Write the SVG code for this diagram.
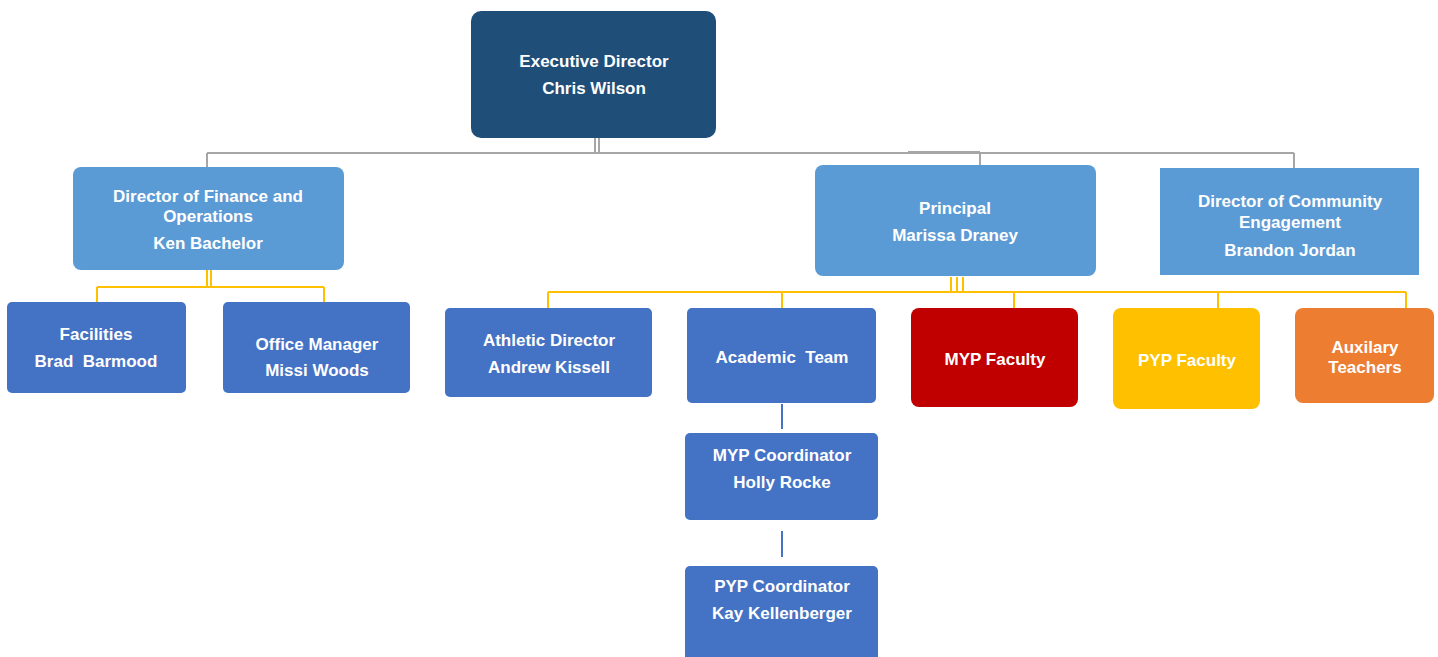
<svg xmlns="http://www.w3.org/2000/svg" width="1438" height="657" viewBox="0 0 1438 657">
<style>
text{font-family:"Liberation Sans",Arial,sans-serif;font-weight:bold;font-size:17px;fill:#FFFFFF;text-anchor:middle;white-space:pre}
.gray{stroke:#A6A6A6;stroke-width:2;fill:none}
.yel{stroke:#FFC000;stroke-width:2;fill:none}
.blu{stroke:#4472C4;stroke-width:2;fill:none}
.exec{fill:#1F4E79}
.mid{fill:#5B9BD5}
.low{fill:#4472C4}
</style>
<rect width="1438" height="657" fill="#FFFFFF"/>
<g id="connectors">
<path class="gray" d="M595,138V153M599,138V153M207,153H1294M207,153V167M980,153V165M1294,153V168M908,152H980"/>
<path class="yel" d="M207,270V287M211,270V287M97,287H324M97,287V302M324,287V302"/>
<path class="yel" d="M951,277V292M957,277V292M963,277V292M548,292H1406M548,292V308M782,292V308M1014,292V308M1218,292V308M1406,292V308"/>
<path class="blu" d="M782,404V429M782,531V557"/>
</g>
<g id="exec"><rect class="exec" x="471" y="11" width="245" height="127" rx="10"/><text x="594" y="67">Executive Director</text><text x="594" y="94">Chris Wilson</text></g>
<g id="finance"><rect class="mid" x="73" y="167" width="271" height="103" rx="8"/><text x="208" y="202">Director of Finance and</text><text x="208" y="222">Operations</text><text x="208" y="249">Ken Bachelor</text></g>
<g id="principal"><rect class="mid" x="815" y="165" width="281" height="111" rx="8"/><text x="955" y="214">Principal</text><text x="955" y="241">Marissa Draney</text></g>
<g id="community"><rect class="mid" x="1160" y="168" width="259" height="107"/><text x="1290" y="207">Director of Community</text><text x="1290" y="228">Engagement</text><text x="1290" y="256">Brandon Jordan</text></g>
<g id="facilities"><rect class="low" x="7" y="302" width="179" height="91" rx="5"/><text x="96" y="340">Facilities</text><text x="96" y="367">Brad  Barmood</text></g>
<g id="office"><rect class="low" x="223" y="302" width="187" height="91" rx="5"/><text x="317" y="350">Office Manager</text><text x="317" y="376">Missi Woods</text></g>
<g id="athletic"><rect class="low" x="445" y="308" width="207" height="89" rx="5"/><text x="549" y="346">Athletic Director</text><text x="549" y="373">Andrew Kissell</text></g>
<g id="academic"><rect class="low" x="687" y="308" width="189" height="95" rx="5"/><text x="782" y="363">Academic  Team</text></g>
<g id="myp-faculty"><rect fill="#C00000" x="911" y="308" width="167" height="99" rx="8"/><text x="995" y="365">MYP Faculty</text></g>
<g id="pyp-faculty"><rect fill="#FFC000" x="1113" y="308" width="147" height="101" rx="8"/><text x="1187" y="366">PYP Faculty</text></g>
<g id="auxilary"><rect fill="#ED7D31" x="1295" y="308" width="139" height="95" rx="8"/><text x="1365" y="353">Auxilary</text><text x="1365" y="373">Teachers</text></g>
<g id="myp-coord"><rect class="low" x="685" y="433" width="193" height="87" rx="5"/><text x="782" y="461">MYP Coordinator</text><text x="782" y="488">Holly Rocke</text></g>
<g id="pyp-coord"><rect class="low" x="685" y="566" width="193" height="100" rx="5"/><text x="782" y="592">PYP Coordinator</text><text x="782" y="619">Kay Kellenberger</text></g>
</svg>
